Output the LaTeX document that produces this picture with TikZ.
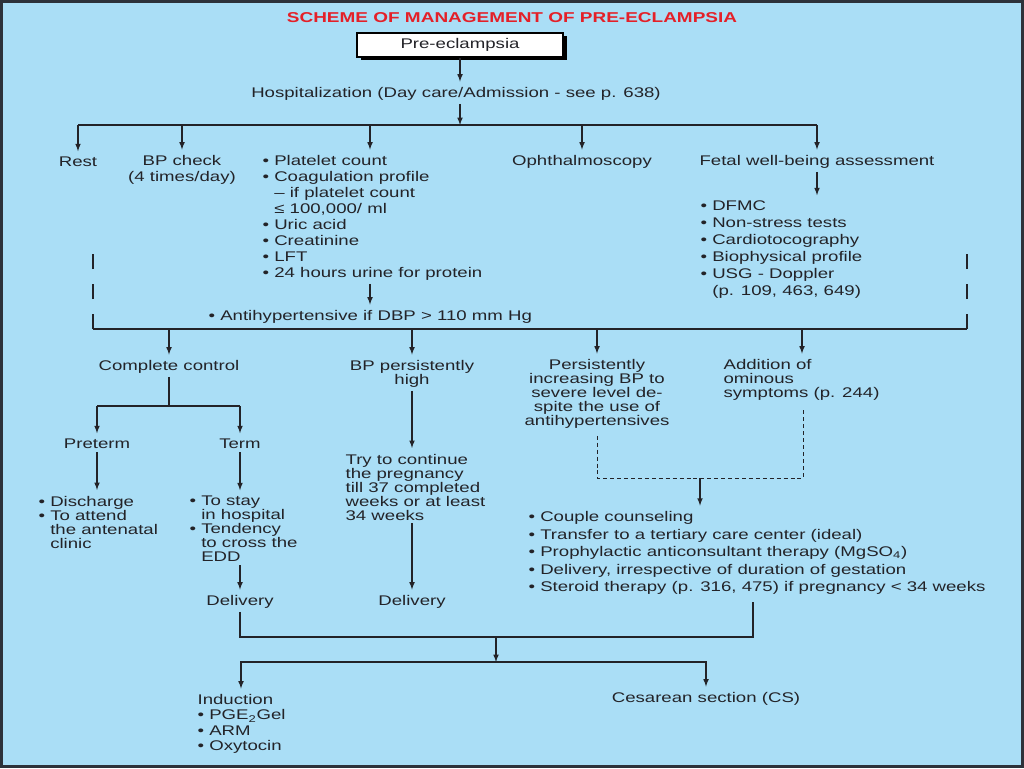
\documentclass[tikz,border=0pt]{standalone}
\usepackage{fontspec}
\setmainfont{Liberation Sans}[FakeStretch=1.33]
\usetikzlibrary{shadows}
\definecolor{bgblue}{RGB}{170,222,246}
\definecolor{framegray}{RGB}{45,50,58}
\definecolor{titlered}{RGB}{228,32,40}
\definecolor{ink}{RGB}{35,35,40}
\newcommand{\bl}{•\ }
\newcommand{\ind}{\phantom{•\ }}

\begin{document}
\begin{tikzpicture}[x=0.75pt,y=-0.75pt,line width=0.9pt,draw=ink,
  every node/.style={inner sep=0pt,text=ink,font=\fontsize{10.5}{12}\selectfont},
  tight/.style={font=\fontsize{10.5}{10.5}\selectfont},
  list/.style={align=left},
  title/.style={text=titlered,font=\fontsize{10.7}{13}\bfseries},
  box/.style={draw=black,fill=white,line width=0.8pt,minimum width=154.5pt,minimum height=18pt,
    drop shadow={shadow xshift=3pt,shadow yshift=-2.4pt,fill=black,opacity=1}},
  arr/.style={-latex,shorten >=4pt},
  link/.style={arr,shorten <=2pt},
  tobar/.style={-latex,shorten <=2pt},
  dashline/.style={dash pattern=on 3pt off 2.2pt,line width=0.7pt}]
\useasboundingbox (0,0) rectangle (1024,768);
\fill[bgblue] (0,0) rectangle (1024,768);
\draw[framegray,line width=2.25pt] (1.5,1.5) rectangle (1022.5,766.5);

\node[title] (title) at (512,18) {SCHEME OF MANAGEMENT OF PRE-ECLAMPSIA};
\node[box] (pre) at (460,45) {Pre-eclampsia};
\node (hosp) at (456,94) {Hospitalization (Day care/Admission - see p. 638)};
\coordinate (h1) at (460,125);
\draw[arr] (pre.south) -- (pre.south |- hosp.north);
\draw[tobar] (h1 |- hosp.south) -- (h1);

\node (rest) at (78,162) {Rest};
\node[align=center] (bpc) at (182,170) {BP check\\(4 times/day)};
\node[list,anchor=west] (plat) at (262,218) {\bl Platelet count\\\bl Coagulation profile\\\ind– if platelet count\\\ind≤ 100,000/ ml\\\bl Uric acid\\\bl Creatinine\\\bl LFT\\\bl 24 hours urine for protein};
\node (oph) at (582,162) {Ophthalmoscopy};
\node (fetal) at (817,162) {Fetal well-being assessment};
\node[list,anchor=west,font=\fontsize{10.5}{12.75}\selectfont] (fet) at (700,250) {\bl DFMC\\\bl Non-stress tests\\\bl Cardiotocography\\\bl Biophysical profile\\\bl USG - Doppler\\\ind(p. 109, 463, 649)};
\node[anchor=west] (anti) at (208,317) {\bl Antihypertensive if DBP > 110 mm Hg};
\coordinate (c3) at (370,125);

\draw (rest.north |- h1) -- (fetal.north |- h1);
\draw[arr] (rest.north |- h1) -- (rest.north);
\draw[arr] (bpc.north |- h1) -- (bpc.north);
\draw[arr] (c3) -- (c3 |- plat.north);
\draw[arr] (oph.north |- h1) -- (oph.north);
\draw[arr] (fetal.north |- h1) -- (fetal.north);
\draw[link] (fetal.south) -- (fetal.south |- fet.north);
\draw[link] (c3 |- plat.south) -- (c3 |- anti.north);

\coordinate (k1) at (93,253);
\coordinate (k2) at (93,329);
\coordinate (k3) at (967,329);
\coordinate (k4) at (967,253);
\draw[dash pattern=on 11.25pt off 11.25pt] (k2) -- (k1);
\draw (k2) -- (k3);
\draw[dash pattern=on 11.25pt off 11.25pt] (k3) -- (k4);

\node (cc) at (169,367) {Complete control};
\node[tight,align=center] (bph) at (412,374) {BP persistently\\high};
\node[tight,align=center] (pers) at (597,394) {Persistently\\increasing BP to\\severe level de-\\spite the use of\\antihypertensives};
\node[tight,list,anchor=west] (add) at (723,380) {Addition of\\ominous\\symptoms (p. 244)};
\coordinate (a1) at (802,329);
\draw[arr] (cc.north |- k2) -- (cc.north);
\draw[arr] (bph.north |- k2) -- (bph.north);
\draw[arr] (pers.north |- k2) -- (pers.north);
\draw[arr] (a1) -- (a1 |- add.north);

\coordinate (c1) at (169,406);
\node (pt) at (97,444) {Preterm};
\node (tm) at (240,444) {Term};
\draw[shorten <=2pt] (cc.south) -- (c1);
\draw (pt.north |- c1) -- (tm.north |- c1);
\draw[arr] (pt.north |- c1) -- (pt.north);
\draw[arr] (tm.north |- c1) -- (tm.north);

\node[tight,list,anchor=west] (dis) at (38,522) {\bl Discharge\\\bl To attend\\\ind the antenatal\\\ind clinic};
\node[tight,list,anchor=west] (stay) at (189,529) {\bl To stay\\\ind in hospital\\\bl Tendency\\\ind to cross the\\\ind EDD};
\node (del1) at (240,602) {Delivery};
\draw[link] (pt.south) -- (pt.south |- dis.north);
\draw[link] (tm.south) -- (tm.south |- stay.north);
\draw[link] (del1.north |- stay.south) -- (del1.north);

\node[tight,list,anchor=west] (try) at (345,487) {Try to continue\\the pregnancy\\till 37 completed\\weeks or at least\\34 weeks};
\node (del2) at (412,602) {Delivery};
\draw[link] (bph.south) -- (bph.south |- try.north);
\draw[link] (del2.north |- try.south) -- (del2.north);

\coordinate (d1) at (597,478);
\coordinate (d2) at (803,478);
\coordinate (d3) at (700,478);
\node[list,anchor=west,font=\fontsize{10.5}{13.1}\selectfont] (ster) at (528,553) {\bl Couple counseling\\\bl Transfer to a tertiary care center (ideal)\\\bl Prophylactic anticonsultant therapy (MgSO\textsubscript{4})\\\bl Delivery, irrespective of duration of gestation\\\bl Steroid therapy (p. 316, 475) if pregnancy < 34 weeks};
\draw[dashline,shorten <=5pt,shorten >=7pt] (pers.south) -- (d1) -- (d2) -- (d2 |- add.south);
\draw[arr] (d3) -- (d3 |- ster.north);

\coordinate (j1) at (496,637);
\coordinate (j2) at (496,662);
\coordinate (sx) at (753,0);
\coordinate (ix) at (241,662);
\draw[shorten <=2pt,shorten >=5pt] (del1.south) |- (j1) -| (sx |- ster.south);
\draw[-latex] (j1) -- (j2);
\node[list,anchor=west,font=\fontsize{10.5}{11.5}\selectfont] (ind) at (197,724) {Induction\\\bl PGE\textsubscript{2}Gel\\\bl ARM\\\bl Oxytocin};
\node (cs) at (706,699) {Cesarean section (CS)};
\draw[arr] (j2) -| (ix |- ind.north);
\draw[arr] (j2) -| (cs.north);
\end{tikzpicture}
\end{document}
